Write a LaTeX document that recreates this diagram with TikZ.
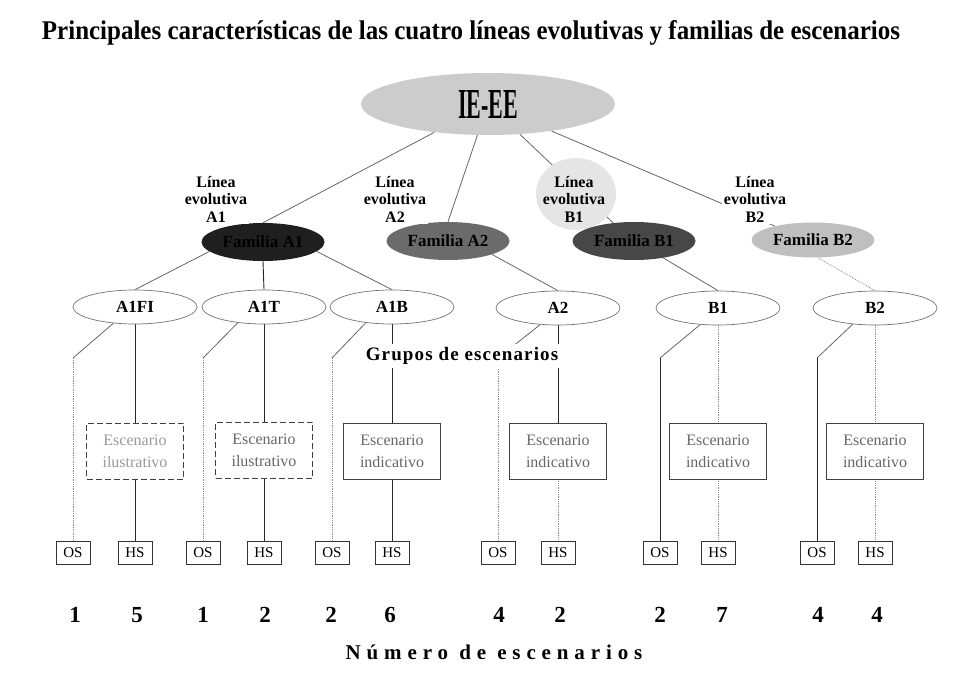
\documentclass[tikz,border=0pt]{standalone}
\usepackage{fontspec}
\setmainfont{Liberation Serif}
\newfontfamily\numfont[LetterSpace=28]{Liberation Serif}
\newfontfamily\grupfont[LetterSpace=6]{Liberation Serif}
\usepackage{graphicx}
\usetikzlibrary{shapes.geometric}
\pgfdeclarelayer{bg}
\pgfdeclarelayer{mid}
\pgfsetlayers{bg,mid,main}
\begin{document}
\begin{tikzpicture}[x=1pt,y=-1pt,
  oval/.style={ellipse, draw=black!55, line width=0.7pt, inner sep=0pt},
  grp/.style={oval, fill=white, minimum width=124pt, minimum height=34pt, font=\fontsize{17}{17}\selectfont\bfseries},
  fam/.style={ellipse, inner sep=0pt, minimum width=123pt, minimum height=38pt, font=\fontsize{17}{17}\selectfont\bfseries},
  lbl/.style={align=center, fill=white, inner sep=1.5pt, font=\fontsize{16}{17.5}\selectfont\bfseries},
  esc/.style={draw=black!75, line width=0.8pt, minimum width=97pt, minimum height=56pt, align=center, inner sep=0pt, text=black!60, font=\fontsize{16}{22}\selectfont},
  dashbox/.style={esc, dash pattern=on 6pt off 3pt},
  sbox/.style={draw=black!80, line width=0.8pt, minimum width=34pt, minimum height=23pt, inner sep=0pt, font=\fontsize{15}{15}\selectfont},
  num/.style={anchor=base, inner sep=0pt, font=\fontsize{23}{23}\selectfont\bfseries},
  dk/.style={draw=black!85, line width=0.9pt},
  lt/.style={draw=black!45, line width=0.8pt, densely dotted},
  md/.style={draw=black!60, line width=0.8pt},
]
\useasboundingbox (0,0) rectangle (956,674);

% title
\node[anchor=base, inner sep=0pt] (title) at (471,40) {\resizebox{858pt}{19pt}{\bfseries Principales características de las cuatro líneas evolutivas y familias de escenarios}};

% root
\node[ellipse, fill=black!20, inner sep=0pt, minimum width=254pt, minimum height=62pt] (ieee) at (488,104) {\resizebox{60pt}{28pt}{\bfseries IE-EE}};

% families
\node[fam, fill=black!88] (famA1) at (263,242) {Familia A1};
\node[fam, fill=black!58] (famA2) at (448,241) {Familia A2};
\node[fam, fill=black!72] (famB1) at (634,241) {Familia B1};
\node[fam, fill=black!25, minimum height=35pt] (famB2) at (813,240) {Familia B2};

% labels
\begin{pgfonlayer}{mid}
\node[ellipse, fill=black!10, minimum width=80pt, minimum height=72pt] (blobB1) at (576,194) {};
\end{pgfonlayer}
\node[lbl] (lA1) at (216,199) {Línea\\evolutiva\\A1};
\node[lbl] (lA2) at (395,199) {Línea\\evolutiva\\A2};
\node[lbl, fill=none] (lB1) at (574,199) {Línea\\evolutiva\\B1};
\node[lbl] (lB2) at (755,199) {Línea\\evolutiva\\B2};

% scenario groups
\node[grp] (a1fi) at (135,307) {A1FI};
\node[grp] (a1t) at (264,307) {A1T};
\node[grp] (a1b) at (392,307) {A1B};
\node[grp] (a2) at (558,308) {A2};
\node[grp] (b1) at (718,308) {B1};
\node[grp] (b2) at (875,308) {B2};

\node[fill=white, inner sep=3pt, font=\fontsize{19}{19}\selectfont\bfseries\grupfont] (grupos) at (462,356) {Grupos de escenarios};

% scenario boxes
\node[dashbox, text=black!40] (escA) at (135,451) {Escenario\\ilustrativo};
\node[dashbox] (escB) at (264,450) {Escenario\\ilustrativo};
\node[esc] (escC) at (392,451) {Escenario\\indicativo};
\node[esc] (escD) at (558,451) {Escenario\\indicativo};
\node[esc] (escE) at (718,451) {Escenario\\indicativo};
\node[esc] (escF) at (875,451) {Escenario\\indicativo};

% OS / HS boxes
\node[sbox] (osA) at (73,553) {OS};
\node[sbox] (hsA) at (135,553) {HS};
\node[sbox] (osB) at (203,553) {OS};
\node[sbox] (hsB) at (264,553) {HS};
\node[sbox] (osC) at (332,553) {OS};
\node[sbox] (hsC) at (392,553) {HS};
\node[sbox] (osD) at (498,553) {OS};
\node[sbox] (hsD) at (558,553) {HS};
\node[sbox] (osE) at (660,553) {OS};
\node[sbox] (hsE) at (718,553) {HS};
\node[sbox] (osF) at (817,553) {OS};
\node[sbox] (hsF) at (875,553) {HS};

% numbers
\node[num] (nA1) at (75,622) {1};
\node[num] (nA2) at (137,622) {5};
\node[num] (nB1) at (203,622) {1};
\node[num] (nB2) at (265,622) {2};
\node[num] (nC1) at (331,622) {2};
\node[num] (nC2) at (390,622) {6};
\node[num] (nD1) at (499,622) {4};
\node[num] (nD2) at (560,622) {2};
\node[num] (nE1) at (660,622) {2};
\node[num] (nE2) at (722,622) {7};
\node[num] (nF1) at (818,622) {4};
\node[num] (nF2) at (877,622) {4};

\node[font=\fontsize{21}{21}\selectfont\bfseries\numfont] (numero) at (494,652) {Número de escenarios};

% bend points
\coordinate (kA) at (73,358);
\coordinate (kB) at (203,358);
\coordinate (kC) at (332,358);
\coordinate (kD) at (498,358);
\coordinate (kE) at (660,358);
\coordinate (kF) at (817,358);

\begin{pgfonlayer}{bg}
% root to families
\draw[md] (ieee) -- (famA1.north);
\draw[md] (ieee) -- (famA2.north);
\draw[md] (ieee) -- (famB1.139);
\draw[md] (ieee) -- (famB2.160);
% families to groups
\draw[md] (famA1.190) -- (a1fi.north);
\draw[dk] (famA1.south) -- (a1t.north);
\draw[md] (famA1.350) -- (a1b.north);
\draw[md] (famA2.343) -- (a2.north);
\draw[md] (famB1.330) -- (b1.north);
\draw[lt] (famB2.285) -- (b2.north);
% OS branches
\draw[md] (a1fi.217) -- (kA); \draw[lt] (kA) -- (osA.north);
\draw[md] (a1t.211) -- (kB); \draw[lt] (kB) -- (osB.north);
\draw[md] (a1b.211) -- (kC); \draw[lt] (kC) -- (osC.north);
\draw[md] (a2.223) -- (kD); \draw[lt] (kD) -- (osD.north);
\draw[md] (b1.223) -- (kE); \draw[dk] (kE) -- (osE.north);
\draw[md] (b2.216) -- (kF); \draw[dk] (kF) -- (osF.north);
% HS branches
\draw[dk] (a1fi.south) -- (escA.north); \draw[dk] (escA.south) -- (hsA.north);
\draw[dk] (a1t.south) -- (escB.north); \draw[dk] (escB.south) -- (hsB.north);
\draw[dk] (a1b.south) -- (escC.north); \draw[dk] (escC.south) -- (hsC.north);
\draw[dk] (a2.south) -- (escD.north); \draw[lt] (escD.south) -- (hsD.north);
\draw[lt] (b1.south) -- (escE.north); \draw[lt] (escE.south) -- (hsE.north);
\draw[lt] (b2.south) -- (escF.north); \draw[lt] (escF.south) -- (hsF.north);
\end{pgfonlayer}
\end{tikzpicture}
\end{document}
